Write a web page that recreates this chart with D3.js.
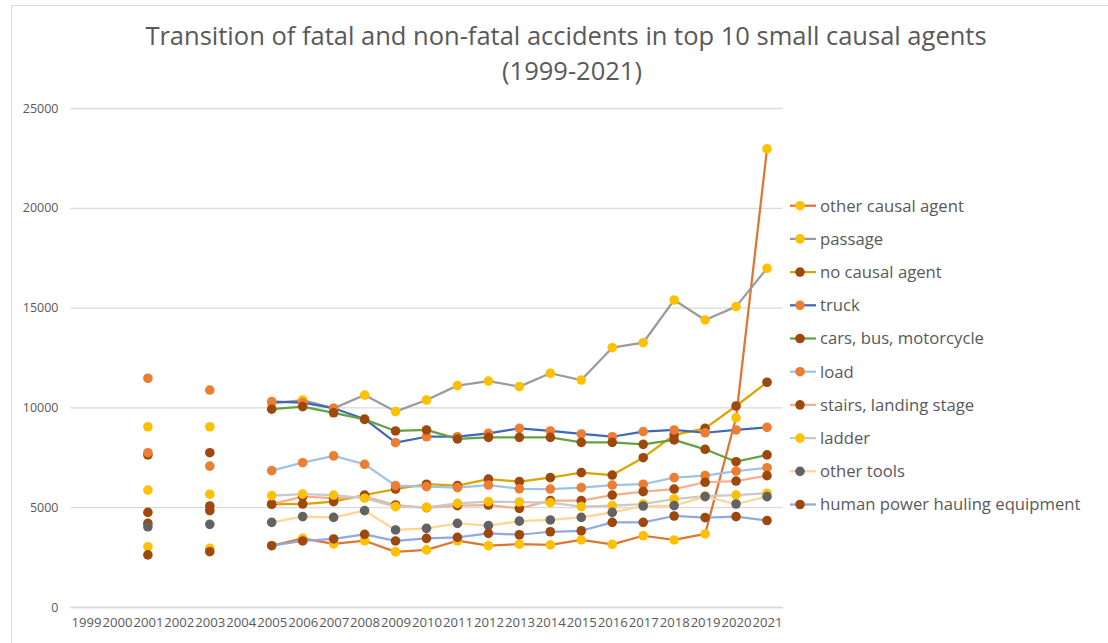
<!DOCTYPE html>
<html>
<head>
<meta charset="utf-8">
<script src="https://cdn.jsdelivr.net/npm/d3@7"></script>
<style>
  body { margin: 0; background: #fff; }
  text { font-family: "Open Sans", "Liberation Sans", sans-serif; fill: #595959; }
</style>
</head>
<body>
<div id="vis"></div>
<script>
const FRAME_WIDTH = 1108;
const FRAME_HEIGHT = 643;
const MARGINS = {left: 70.5, right: 325.5, top: 108, bottom: 36};
const PLOT_RIGHT = FRAME_WIDTH - MARGINS.right;
const PLOT_BOTTOM = FRAME_HEIGHT - MARGINS.bottom;

const YEARS = ["1999","2000","2001","2002","2003","2004","2005","2006","2007","2008","2009","2010",
  "2011","2012","2013","2014","2015","2016","2017","2018","2019","2020","2021"];
const Y_TICKS = [0, 5000, 10000, 15000, 20000, 25000];

const SERIES_NAMES = ["other causal agent", "passage", "no causal agent", "truck", "cars, bus, motorcycle",
  "load", "stairs, landing stage", "ladder", "other tools", "human power hauling equipment"];

// values per year, null where no data (1999, 2000, 2002, 2004)
const OTHER_CAUSAL = [null,null,3020,null,2940,null,3070,3440,3160,3320,2760,2860,3320,3070,3150,3110,3360,3140,3570,3360,3660,9480,22950];
const PASSAGE = [null,null,9030,null,9030,null,10200,10370,9950,10620,9790,10370,11090,11320,11040,11710,11370,12990,13240,15380,14380,15050,16970];
const NO_CAUSAL = [null,null,4740,null,5060,null,5150,5160,5280,5610,5910,6150,6080,6410,6280,6480,6730,6610,7480,8620,8950,10070,11260];
const TRUCK = [null,null,11460,null,10870,null,10290,10240,9960,9420,8230,8530,8530,8700,8950,8820,8670,8530,8790,8870,8730,8870,9000];
const CARS = [null,null,7620,null,7730,null,9910,10040,9730,9400,8820,8870,8420,8500,8500,8500,8250,8250,8150,8370,7900,7280,7620];
const LOAD = [null,null,7730,null,7060,null,6830,7230,7570,7150,6080,6030,5980,6110,5920,5910,5980,6110,6150,6480,6580,6810,6980];
const STAIRS = [null,null,4190,null,4830,null,5150,5530,5450,5530,5110,4980,5080,5110,4940,5330,5330,5610,5780,5910,6250,6310,6580];
const LADDER = [null,null,5860,null,5650,null,5580,5660,5610,5450,5030,4990,5190,5280,5260,5230,5030,5080,5160,5410,5560,5610,5700];
const OTHER_TOOLS = [null,null,4020,null,4140,null,4240,4530,4490,4830,3860,3940,4190,4080,4300,4360,4490,4740,5060,5080,5530,5160,5530];
const HUMAN_POWER = [null,null,2610,null,2770,null,3070,3310,3410,3640,3310,3440,3490,3690,3620,3770,3820,4240,4240,4560,4480,4530,4330];

const SERIES_VALUES = [OTHER_CAUSAL, PASSAGE, NO_CAUSAL, TRUCK, CARS, LOAD, STAIRS, LADDER, OTHER_TOOLS, HUMAN_POWER];

const LINE_COLORS = ["#DD7632", "#9B9B9B", "#DCA400", "#3F68B8", "#63A23E", "#9DC3E6", "#F4B08E", "#C9C9C9", "#FFD591", "#8FAADC"];
const MARKER_COLORS = ["#FFC000", "#FFC000", "#9E480E", "#ED7D31", "#9E480E", "#ED7D31", "#9E480E", "#FFC000", "#636363", "#9E480E"];

const X_SCALE = d3.scalePoint()
  .domain(YEARS)
  .range([MARGINS.left, PLOT_RIGHT])
  .padding(0.5);

const Y_SCALE = d3.scaleLinear()
  .domain([0, 25000])
  .range([PLOT_BOTTOM, MARGINS.top]);

const FRAME =
  d3.select("#vis")
    .append("svg")
      .attr("width", FRAME_WIDTH)
      .attr("height", FRAME_HEIGHT);

// chart border (continues past the picture edge)
FRAME.append("rect")
  .attr("x", 11.5).attr("y", 5.5)
  .attr("width", 1120).attr("height", 660)
  .attr("fill", "none")
  .attr("stroke", "#d9d9d9");

// title
const TITLE = FRAME.append("text")
  .attr("text-anchor", "middle")
  .attr("font-size", 25.5);
TITLE.append("tspan").attr("x", 566).attr("y", 45)
  .text("Transition of fatal and non-fatal accidents in top 10 small causal agents");
TITLE.append("tspan").attr("x", 572).attr("y", 80)
  .text("(1999-2021)");

// y axis with gridlines
const Y_AXIS = FRAME.append("g")
  .attr("transform", "translate(" + MARGINS.left + ",0)")
  .call(d3.axisLeft(Y_SCALE).tickValues(Y_TICKS).tickSize(-(PLOT_RIGHT - MARGINS.left)).tickPadding(12).tickFormat(d3.format("d")));
Y_AXIS.select(".domain").remove();
Y_AXIS.selectAll(".tick line").attr("stroke", "#d9d9d9").attr("stroke-width", 1.3);
Y_AXIS.selectAll(".tick text").attr("font-size", 12.5).attr("fill", "#595959")
  .attr("font-family", "'Open Sans', sans-serif");

// x axis
const X_AXIS = FRAME.append("g")
  .attr("transform", "translate(0," + PLOT_BOTTOM + ")")
  .call(d3.axisBottom(X_SCALE).tickSize(0).tickPadding(11));
X_AXIS.select(".domain").attr("stroke", "#d9d9d9").attr("stroke-width", 1.3);
X_AXIS.selectAll(".tick text").attr("font-size", 12.5).attr("fill", "#595959")
  .attr("font-family", "'Open Sans', sans-serif")
  .attr("textLength", 30).attr("lengthAdjust", "spacingAndGlyphs");

// series lines and markers
const LINE = d3.line()
  .defined((d) => d != null)
  .x((d, i) => X_SCALE(YEARS[i]))
  .y((d) => Y_SCALE(d));

SERIES_VALUES.forEach((vals, s) => {
  const g = FRAME.append("g");
  g.append("path")
    .datum(vals)
    .attr("d", LINE)
    .attr("fill", "none")
    .attr("stroke", LINE_COLORS[s])
    .attr("stroke-width", 2.25)
    .attr("stroke-linejoin", "round");
  g.selectAll("circle")
    .data(vals.map((v, i) => ({year: YEARS[i], v: v})).filter((d) => d.v != null))
    .enter()
    .append("circle")
      .attr("cx", (d) => X_SCALE(d.year))
      .attr("cy", (d) => Y_SCALE(d.v))
      .attr("r", 4.8)
      .attr("fill", MARKER_COLORS[s]);
});

// legend
const LEGEND = FRAME.selectAll(".legend")
  .data(SERIES_NAMES)
  .enter()
  .append("g")
    .attr("class", "legend")
    .attr("transform", (d, i) => "translate(790," + (205.7 + i * 33.2) + ")");
LEGEND.append("line")
  .attr("x1", 0).attr("x2", 26)
  .attr("stroke", (d, i) => LINE_COLORS[i])
  .attr("stroke-width", 2.25);
LEGEND.append("circle")
  .attr("cx", 10).attr("r", 4.8)
  .attr("fill", (d, i) => MARKER_COLORS[i]);
LEGEND.append("text")
  .attr("x", 30).attr("dy", "0.35em")
  .attr("font-size", 16.7)
  .text((d) => d);
</script>
</body>
</html>
